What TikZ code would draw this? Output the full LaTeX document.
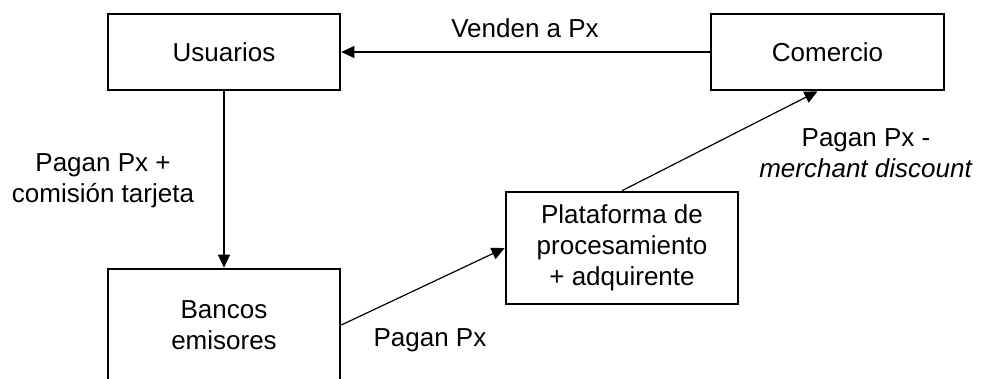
\documentclass[tikz,border=0pt]{standalone}
\usepackage{fontspec}
\setmainfont{Liberation Sans}
\usetikzlibrary{arrows.meta}
\begin{document}
\begin{tikzpicture}[x=1pt,y=-1pt,
  box/.style={draw, line width=2.6pt, inner sep=0pt, align=center, font=\fontsize{26}{31}\selectfont},
  conn/.style={line width=1.2pt, -{Triangle[length=13pt,width=12pt]}},
  lbl/.style={font=\fontsize{26}{31}\selectfont, align=center, inner sep=0pt}]
\clip (0,0) rectangle (982,379);
\node[box, minimum width=232pt, minimum height=76pt] (U) at (224,52) {Usuarios};
\node[box, minimum width=233pt, minimum height=76pt] (C) at (827.5,52) {Comercio};
\node[box, minimum width=232pt, minimum height=112pt] (B) at (224,325) {Bancos\\emisores};
\node[box, minimum width=232pt, minimum height=112pt] (P) at (622,248) {Plataforma de\\procesamiento\\+ adquirente};
\draw[conn] (C.west) -- (U.east);
\draw[conn] (U.south) -- (B.north);
\draw[conn] (B.east) -- (P.west);
\draw[conn] (P.north) -- ([xshift=-10pt]C.south);
\node[lbl, anchor=base] (l1) at (525,38) {Venden a Px};
\node[lbl] (l2) at (103,181) {Pagan Px +\\comisión tarjeta};
\node[lbl, anchor=base] (l3) at (430,346) {Pagan Px};
\node[lbl] (l4) at (866,153) {Pagan Px -\\\textit{merchant discount}};
\end{tikzpicture}
\end{document}
